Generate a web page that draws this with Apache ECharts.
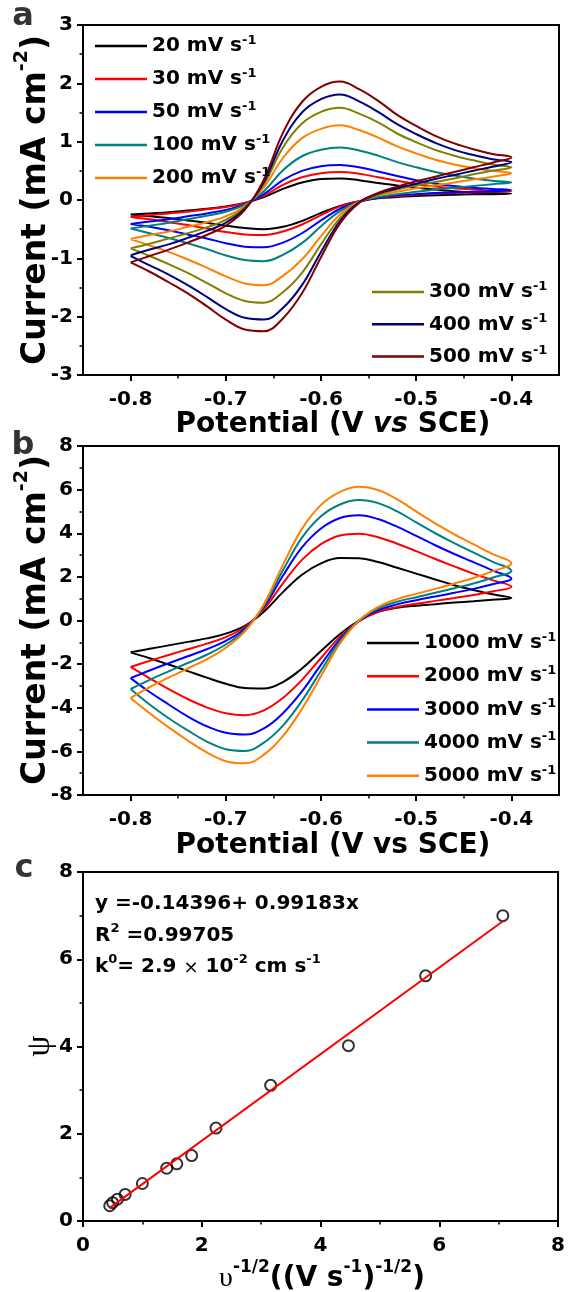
<!DOCTYPE html>
<html><head><meta charset="utf-8">
<script src="https://cdn.jsdelivr.net/npm/echarts@6/dist/echarts.min.js"></script>
<style>html,body{margin:0;padding:0;background:#fff}#c{width:568px;height:1292px}</style>
</head><body><div id="c"></div>
<script>
// ---------- data ----------
const potentialFwd = [-0.80,-0.78,-0.76,-0.74,-0.72,-0.70,-0.68,-0.66,-0.64,-0.62,-0.60,-0.58,-0.56,-0.54,-0.52,-0.50,-0.48,-0.46,-0.44,-0.42,-0.40];
const potentialRev = [-0.42,-0.44,-0.46,-0.48,-0.50,-0.52,-0.54,-0.56,-0.58,-0.60,-0.62,-0.64,-0.66,-0.68,-0.70,-0.72,-0.74,-0.76,-0.78,-0.80];
const potentialTicks = [-0.8,-0.7,-0.6,-0.5,-0.4];
const potentialMinorTicks = [-0.75,-0.65,-0.55,-0.45];

// panel a (mA cm-2)
const ratesA = ['20','30','50','100','200','300','400','500'];
const a20Fwd  = [-0.25,-0.23,-0.21,-0.18,-0.15,-0.11,-0.05,0.05,0.19,0.30,0.36,0.37,0.34,0.29,0.25,0.21,0.18,0.15,0.13,0.12,0.11];
const a20Rev  = [0.10,0.10,0.09,0.08,0.07,0.05,0.03,-0.02,-0.10,-0.22,-0.36,-0.46,-0.50,-0.48,-0.44,-0.39,-0.35,-0.31,-0.28,-0.25];
const a30Fwd  = [-0.29,-0.26,-0.23,-0.20,-0.16,-0.12,-0.05,0.07,0.26,0.39,0.46,0.48,0.45,0.39,0.33,0.27,0.23,0.20,0.18,0.16,0.15];
const a30Rev  = [0.14,0.13,0.12,0.11,0.09,0.07,0.04,-0.02,-0.11,-0.26,-0.42,-0.54,-0.60,-0.59,-0.55,-0.49,-0.43,-0.38,-0.33,-0.29];
const a50Fwd  = [-0.41,-0.37,-0.33,-0.28,-0.23,-0.17,-0.07,0.10,0.34,0.50,0.58,0.60,0.56,0.49,0.41,0.34,0.28,0.24,0.21,0.19,0.17];
const a50Rev  = [0.15,0.14,0.13,0.12,0.10,0.08,0.04,-0.03,-0.15,-0.35,-0.57,-0.73,-0.81,-0.80,-0.74,-0.66,-0.59,-0.52,-0.46,-0.41];
const a100Fwd = [-0.49,-0.44,-0.39,-0.33,-0.27,-0.20,-0.08,0.15,0.51,0.75,0.86,0.90,0.85,0.76,0.65,0.56,0.48,0.42,0.37,0.33,0.30];
const a100Rev = [0.27,0.24,0.21,0.18,0.14,0.10,0.05,-0.03,-0.19,-0.45,-0.74,-0.94,-1.05,-1.03,-0.95,-0.84,-0.74,-0.65,-0.57,-0.49];
const a200Fwd = [-0.67,-0.60,-0.54,-0.46,-0.38,-0.28,-0.11,0.22,0.72,1.06,1.22,1.28,1.20,1.07,0.92,0.80,0.69,0.61,0.55,0.50,0.46];
const a200Rev = [0.40,0.35,0.30,0.25,0.20,0.14,0.08,-0.03,-0.25,-0.62,-1.02,-1.30,-1.46,-1.43,-1.31,-1.16,-1.02,-0.89,-0.78,-0.67];
const a300Fwd = [-0.83,-0.75,-0.66,-0.57,-0.47,-0.34,-0.13,0.27,0.90,1.31,1.51,1.58,1.48,1.33,1.14,0.99,0.86,0.76,0.68,0.61,0.56];
const a300Rev = [0.50,0.44,0.37,0.31,0.25,0.18,0.09,-0.04,-0.31,-0.76,-1.25,-1.58,-1.76,-1.73,-1.60,-1.42,-1.25,-1.10,-0.96,-0.83];
const a400Fwd = [-0.95,-0.85,-0.76,-0.65,-0.53,-0.39,-0.15,0.31,1.02,1.50,1.73,1.81,1.69,1.51,1.30,1.13,0.98,0.86,0.77,0.70,0.65];
const a400Rev = [0.57,0.50,0.43,0.36,0.28,0.20,0.11,-0.04,-0.36,-0.89,-1.46,-1.85,-2.05,-2.02,-1.87,-1.66,-1.46,-1.28,-1.12,-0.96];
const a500Fwd = [-1.07,-0.96,-0.85,-0.73,-0.60,-0.44,-0.17,0.35,1.15,1.68,1.94,2.03,1.90,1.70,1.46,1.27,1.10,0.97,0.87,0.79,0.73];
const a500Rev = [0.64,0.56,0.48,0.40,0.32,0.23,0.12,-0.05,-0.40,-0.98,-1.60,-2.03,-2.25,-2.22,-2.05,-1.82,-1.60,-1.41,-1.23,-1.07];

// panel b (mA cm-2)
const ratesB = ['1000','2000','3000','4000','5000'];
const b1000Fwd = [-1.46,-1.30,-1.14,-0.98,-0.82,-0.60,-0.25,0.40,1.30,2.10,2.62,2.86,2.85,2.68,2.42,2.15,1.88,1.62,1.40,1.20,1.03];
const b1000Rev = [0.95,0.88,0.82,0.75,0.68,0.58,0.40,0.00,-0.62,-1.40,-2.20,-2.82,-3.12,-3.10,-2.90,-2.62,-2.32,-2.02,-1.73,-1.46];
const b2000Fwd = [-2.13,-1.85,-1.58,-1.32,-1.06,-0.76,-0.30,0.52,1.70,2.78,3.50,3.90,3.98,3.82,3.52,3.18,2.82,2.48,2.15,1.85,1.55];
const b2000Rev = [1.33,1.17,1.03,0.90,0.77,0.62,0.40,-0.03,-0.74,-1.72,-2.72,-3.55,-4.12,-4.34,-4.25,-3.98,-3.60,-3.15,-2.65,-2.13];
const b3000Fwd = [-2.64,-2.29,-1.96,-1.64,-1.32,-0.93,-0.38,0.62,2.05,3.35,4.22,4.70,4.82,4.65,4.30,3.88,3.45,3.05,2.68,2.30,1.92];
const b3000Rev = [1.66,1.45,1.27,1.10,0.93,0.74,0.47,-0.02,-0.85,-2.02,-3.25,-4.25,-4.95,-5.23,-5.15,-4.85,-4.40,-3.85,-3.28,-2.64];
const b4000Fwd = [-3.14,-2.72,-2.33,-1.95,-1.57,-1.10,-0.45,0.68,2.30,3.80,4.78,5.32,5.52,5.38,5.00,4.50,4.00,3.55,3.12,2.70,2.28];
const b4000Rev = [1.96,1.70,1.48,1.27,1.07,0.86,0.55,0.00,-0.95,-2.30,-3.68,-4.82,-5.60,-5.98,-5.90,-5.55,-5.04,-4.48,-3.85,-3.14];
const b5000Fwd = [-3.55,-3.05,-2.62,-2.20,-1.78,-1.25,-0.50,0.75,2.55,4.20,5.30,5.90,6.13,5.98,5.55,5.00,4.45,3.95,3.50,3.05,2.62];
const b5000Rev = [2.25,1.95,1.70,1.45,1.22,0.98,0.62,0.00,-1.05,-2.55,-4.05,-5.30,-6.15,-6.55,-6.45,-6.05,-5.50,-4.90,-4.25,-3.55];

// panel c
const invSqrtRate = [0.45,0.50,0.58,0.71,1.00,1.41,1.58,1.83,2.24,3.16,4.47,5.77,7.07];
const psiValues   = [0.35,0.42,0.50,0.61,0.86,1.21,1.31,1.50,2.13,3.11,4.02,5.62,7.00];
const fitX = [0.45, 7.07];
const fitY = [0.30, 6.87];

// ---------- styling ----------
const SANS = 'DejaVu Sans';
const SERIF = 'Liberation Serif';
const colorsA = ['#000000','#ff0000','#0000ff','#008080','#ff8000','#808000','#000080','#800000'];
const colorsB = ['#000000','#ff0000','#0000ff','#008080','#ff8000'];
const fwdA = [a20Fwd,a30Fwd,a50Fwd,a100Fwd,a200Fwd,a300Fwd,a400Fwd,a500Fwd];
const revA = [a20Rev,a30Rev,a50Rev,a100Rev,a200Rev,a300Rev,a400Rev,a500Rev];
const fwdB = [b1000Fwd,b2000Fwd,b3000Fwd,b4000Fwd,b5000Fwd];
const revB = [b1000Rev,b2000Rev,b3000Rev,b4000Rev,b5000Rev];

function loop(fwd, rev) {
  return potentialFwd.map((e, i) => [e, fwd[i]]).concat(potentialRev.map((e, i) => [e, rev[i]]));
}
const label = r => r + ' mV s-1';

const lbl = {fontFamily: SANS, fontWeight: 'bold', fontSize: 20, color: '#000'};
const tickStyle = {color: '#000', width: 2};
const minorStyle = {color: '#000', width: 1.5};
function xAx(grid, extra) {
  return Object.assign({
    gridIndex: grid, type: 'value', position: 'bottom',
    axisLine: {onZero: false, lineStyle: {color: '#000', width: 2}},
    axisTick: {length: 6, lineStyle: tickStyle},
    minorTick: {show: true, splitNumber: 2, length: 3.5, lineStyle: minorStyle},
    axisLabel: Object.assign({margin: 15}, lbl),
    splitLine: {show: false}
  }, extra);
}
function yAx(grid, extra) {
  return Object.assign({
    gridIndex: grid, type: 'value',
    axisLine: {onZero: false, lineStyle: {color: '#000', width: 2}},
    axisTick: {length: 6, lineStyle: tickStyle},
    minorTick: {show: true, splitNumber: 2, length: 3.5, lineStyle: minorStyle},
    axisLabel: Object.assign({margin: 10}, lbl),
    splitLine: {show: false}
  }, extra);
}
const potAxisExtra = {
  min: -0.85, max: -0.35,
  minorTick: {show: false},
  axisTick: {length: 6, lineStyle: tickStyle, customValues: potentialTicks},
  axisLabel: Object.assign({margin: 15, customValues: potentialTicks, formatter: v => v.toFixed(1)}, lbl)
};
const potMinorExtra = {
  min: -0.85, max: -0.35,
  axisLine: {show: false, onZero: false},
  minorTick: {show: false},
  axisTick: {length: 3.5, lineStyle: minorStyle, customValues: potentialMinorTicks},
  axisLabel: {show: false}
};

const series = [];
ratesA.forEach((r, i) => series.push({
  type: 'line', name: label(r), xAxisIndex: 0, yAxisIndex: 0,
  data: loop(fwdA[i], revA[i]), smooth: 0.4, showSymbol: false, symbol: 'none',
  color: colorsA[i], lineStyle: {width: 2, color: colorsA[i]}
}));
ratesB.forEach((r, i) => series.push({
  type: 'line', name: label(r), xAxisIndex: 1, yAxisIndex: 1,
  data: loop(fwdB[i], revB[i]), smooth: 0.4, showSymbol: false, symbol: 'none',
  color: colorsB[i], lineStyle: {width: 2, color: colorsB[i]}
}));
series.push({
  type: 'scatter', xAxisIndex: 2, yAxisIndex: 2, symbol: 'circle', symbolSize: 11,
  data: invSqrtRate.map((x, i) => [x, psiValues[i]]),
  itemStyle: {color: 'rgba(0,0,0,0)', borderColor: '#000', borderWidth: 2}, z: 2
});
series.push({
  type: 'line', xAxisIndex: 2, yAxisIndex: 2, showSymbol: false, symbol: 'none',
  data: fitX.map((x, i) => [x, fitY[i]]), lineStyle: {color: '#ff0000', width: 2}, z: 3
});

function legendCfg(names, left, top, gap) {
  return {
    data: names, left: left, top: top, orient: 'vertical', icon: 'rect',
    itemWidth: 52, itemHeight: 2.5, itemGap: gap, selectedMode: false,
    formatter: n => '{n|' + n.replace(/-1$/, '') + '}{s|-1}',
    textStyle: {
      rich: {
        n: {fontFamily: SANS, fontWeight: 'bold', fontSize: 20, color: '#000', lineHeight: 24},
        s: {fontFamily: SANS, fontWeight: 'bold', fontSize: 13, color: '#000', lineHeight: 14, verticalAlign: 'top'}
      }
    }
  };
}

const T = (s) => ({fontFamily: SANS, fontWeight: 'bold', fontSize: s, fill: '#000'});
const richTitle = {
  b: Object.assign({lineHeight: 34, verticalAlign: 'bottom'}, T(28)),
  i: Object.assign({lineHeight: 34, verticalAlign: 'bottom', fontStyle: 'italic'}, T(28)),
  s: Object.assign({lineHeight: 18, verticalAlign: 'top'}, T(17)),
  u: {fontFamily: SERIF, fontSize: 28, fill: '#000', lineHeight: 34, verticalAlign: 'bottom'}
};
const richYTitle = {
  b: Object.assign({lineHeight: 40, verticalAlign: 'bottom'}, T(33)),
  s: Object.assign({lineHeight: 20, verticalAlign: 'top'}, T(19))
};
const richNote = {
  b: Object.assign({lineHeight: 24, verticalAlign: 'bottom'}, T(20)),
  s: Object.assign({lineHeight: 13, verticalAlign: 'top'}, T(13)),
  x: {fontFamily: SANS, fontSize: 18, fill: '#000', lineHeight: 24, verticalAlign: 'bottom'}
};
function txt(x, y, text, rich, opts, align) {
  return Object.assign({
    type: 'text', x: x, y: y,
    style: {text: text, rich: rich, align: align || 'center', verticalAlign: 'middle', fill: '#000'}
  }, opts || {});
}
const panelLbl = {p: Object.assign({}, T(32), {fill: '#333'})};

const option = {
  animation: false,
  backgroundColor: '#fff',
  grid: [
    {left: 83, top: 25, width: 476, height: 350, show: true, borderColor: '#000', borderWidth: 2},
    {left: 83, top: 446, width: 476, height: 349, show: true, borderColor: '#000', borderWidth: 2},
    {left: 83, top: 872, width: 476, height: 349, show: true, borderColor: '#000', borderWidth: 2}
  ],
  xAxis: [
    xAx(0, potAxisExtra),
    xAx(1, potAxisExtra),
    xAx(2, {min: 0, max: 8, interval: 2}),
    xAx(0, potMinorExtra),
    xAx(1, potMinorExtra)
  ],
  yAxis: [
    yAx(0, {min: -3, max: 3, interval: 1}),
    yAx(1, {min: -8, max: 8, interval: 2}),
    yAx(2, {min: 0, max: 8, interval: 2})
  ],
  legend: [
    legendCfg(ratesA.slice(0, 5).map(label), 90, 29, 11),
    legendCfg(ratesA.slice(5).map(label), 367, 275, 10.3),
    legendCfg(ratesB.map(label), 362, 626, 11.2)
  ],
  series: series,
  graphic: [
    txt(23, 17, '{p|a}', panelLbl),
    txt(23, 446, '{p|b}', panelLbl),
    txt(24, 869, '{p|c}', panelLbl),
    txt(33, 200, '{b|Current (mA cm}{s|-2}{b|)}', richYTitle, {rotation: Math.PI / 2}),
    txt(33, 620, '{b|Current (mA cm}{s|-2}{b|)}', richYTitle, {rotation: Math.PI / 2}),
    txt(333, 422, '{b|Potential (V }{i|vs}{b| SCE)}', richTitle),
    txt(333, 843, '{b|Potential (V vs SCE)}', richTitle),
    txt(322, 1276, '{u|υ}{s|-1/2}{b|((V s}{s|-1}{b|)}{s|-1/2}{b|)}', richTitle),
    txt(40, 1046, '{u|ψ}', {u: {fontFamily: SERIF, fontSize: 34, fill: '#000'}}, {rotation: Math.PI / 2}),
    txt(95, 902, '{b|y =-0.14396+ 0.99183x}', richNote, null, 'left'),
    txt(95, 934, '{b|R}{s|2}{b| =0.99705}', richNote, null, 'left'),
    txt(95, 965, '{b|k}{s|0}{b|= 2.9 }{x|×}{b| 10}{s|-2}{b| cm s}{s|-1}', richNote, null, 'left')
  ]
};

const chart = echarts.init(document.getElementById('c'), null, {renderer: 'canvas'});
chart.setOption(option);
</script>
</body></html>
